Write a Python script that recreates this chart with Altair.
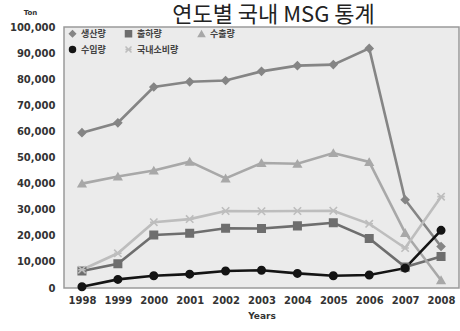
import altair as alt
import pandas as pd

years = ["1998", "1999", "2000", "2001", "2002", "2003", "2004", "2005", "2006", "2007", "2008"]

production = [59500, 63300, 77000, 79000, 79500, 83000, 85200, 85600, 91800, 33800, 15900]
shipments = [6500, 9300, 20300, 21000, 22900, 22800, 23800, 25000, 19000, 8000, 12100]
exports = [40000, 42700, 45000, 48400, 42000, 47900, 47600, 51700, 48300, 21100, 3000]
imports = [500, 3300, 4700, 5300, 6500, 6800, 5600, 4700, 5000, 7600, 22100]
domestic = [7000, 13300, 25200, 26400, 29500, 29400, 29500, 29600, 24600, 15300, 35000]

series_names = ["생산량", "출하량", "수출량", "수입량", "국내소비량"]
series_values = [production, shipments, exports, imports, domestic]
series_colors = ["#858585", "#6e6e6e", "#a8a8a8", "#141414", "#bdbdbd"]
# Excel-style star marker: an X crossed by a horizontal bar
star_path = "M-1,-1L1,1M-1,1L1,-1M-1,0L1,0"
series_shapes = ["diamond", "square", "triangle-up", "circle", star_path]

rows = []
for name, vals in zip(series_names, series_values):
    for yr, v in zip(years, vals):
        rows.append({"year": yr, "series": name, "value": v})
df = pd.DataFrame(rows)

color_scale = alt.Scale(domain=series_names, range=series_colors)
shape_scale = alt.Scale(domain=series_names, range=series_shapes)

x_enc = alt.X(
    "year:O",
    sort=years,
    scale=alt.Scale(type="point", padding=0.5),
    axis=alt.Axis(
        title="Years",
        labelAngle=0,
        labelFont="DejaVu Sans",
        labelFontWeight="bold",
        labelFontSize=10,
        labelColor="#333333",
        labelPadding=7,
        ticks=False,
        domain=False,
        titleFont="DejaVu Sans",
        titleFontWeight="bold",
        titleFontSize=9,
        titleColor="#333333",
        titlePadding=6,
    ),
)
y_enc = alt.Y(
    "value:Q",
    scale=alt.Scale(domain=[0, 100000], nice=False),
    axis=alt.Axis(
        title="Ton",
        titleAngle=0,
        titleX=-34,
        titleY=-15,
        titleAlign="center",
        titleBaseline="middle",
        titleFont="DejaVu Sans",
        titleFontWeight="bold",
        titleFontSize=7,
        titleColor="#333333",
        values=list(range(0, 100001, 10000)),
        format=",.0f",
        labelFont="DejaVu Sans",
        labelFontWeight="bold",
        labelFontSize=10,
        labelColor="#333333",
        labelPadding=9,
        ticks=False,
        domain=False,
        grid=False,
    ),
)

color_enc = alt.Color(
    "series:N",
    scale=color_scale,
    sort=series_names,
    legend=alt.Legend(
        title=None,
        orient="none",
        legendX=4,
        legendY=2,
        direction="horizontal",
        columns=3,
        columnPadding=16,
        rowPadding=3,
        labelFont="Noto Sans CJK KR",
        labelFontWeight="bold",
        labelFontSize=9,
        labelColor="#444444",
        symbolSize=36,
        symbolStrokeWidth=1.5,
        labelOffset=4,
    ),
)

lines = alt.Chart(df).mark_line(strokeWidth=2.6).encode(
    x=x_enc,
    y=y_enc,
    color=color_enc,
    detail="series:N",
)

points = alt.Chart(df).mark_point(filled=True, opacity=1, strokeWidth=1.6).encode(
    x=x_enc,
    y=y_enc,
    color=color_enc,
    shape=alt.Shape("series:N", scale=shape_scale, sort=series_names),
    stroke=alt.Stroke("series:N", scale=color_scale, legend=None),
    size=alt.value(55),
)

chart = (
    alt.layer(lines, points)
    .properties(
        width=395,
        height=261,
        padding={"left": 64, "top": 27, "right": 1, "bottom": 43},
        autosize=alt.AutoSizeParams(type="none"),
        background="white",
        title=alt.TitleParams(
            "연도별 국내 MSG 통계",
            font="Noto Sans CJK KR",
            fontSize=22,
            fontWeight="normal",
            color="#222222",
            anchor="middle",
            dx=12,
            dy=21,
            offset=2,
        ),
    )
    .configure_view(fill="#ebebeb", stroke="#9a9a9a", strokeWidth=1.5)
)

chart.save("out.html", embed_options={"renderer": "svg", "actions": False})
